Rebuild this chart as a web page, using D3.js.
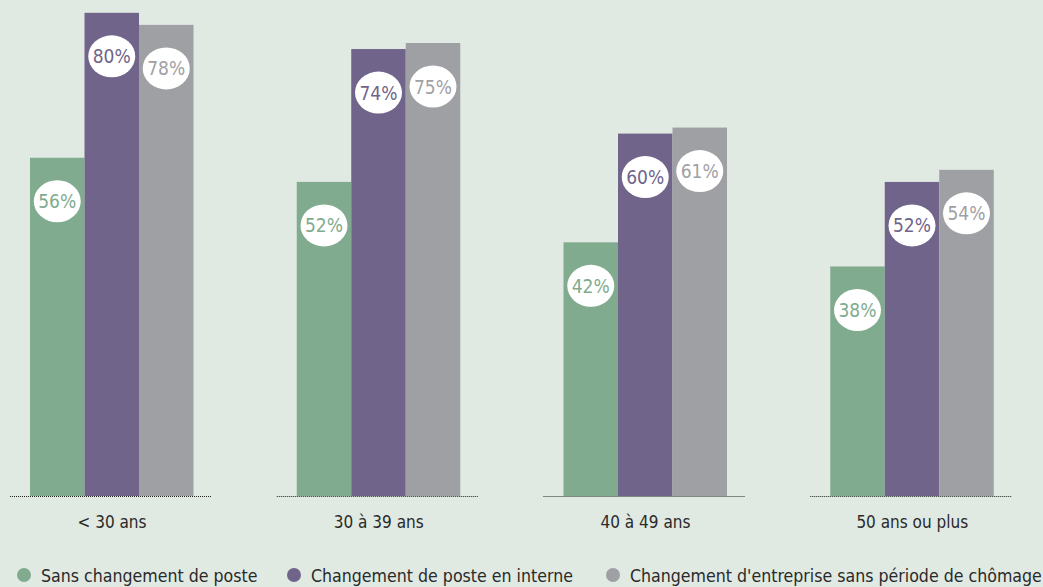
<!DOCTYPE html>
<html>
<head>
<meta charset="utf-8">
<script src="https://cdn.jsdelivr.net/npm/d3@7"></script>
<style>
  body { margin: 0; background: #e0e9e2; }
  text { font-family: "DejaVu Sans Condensed", "DejaVu Sans", sans-serif; }
</style>
</head>
<body>
<div class="container"></div>
<script>
const categories = ['< 30 ans', '30 à 39 ans', '40 à 49 ans', '50 ans ou plus']
const series = ['Sans changement de poste', 'Changement de poste en interne', "Changement d'entreprise sans période de chômage"]
const sansChangement = [56, 52, 42, 38]
const interne = [80, 74, 60, 52]
const entreprise = [78, 75, 61, 54]
const colors = ['#80ab8e', '#71648b', '#9fa0a4']

const values = [sansChangement, interne, entreprise]

const width = 1043, height = 587
const svg = d3.select('.container').append('svg')
    .attr('width', width).attr('height', height)

svg.append('rect').attr('width', width).attr('height', height).attr('fill', '#e0e9e2')

const baseY = 496

const x0 = d3.scaleBand().domain(categories).range([10, 1077]).paddingInner(0).paddingOuter(0)
const x1 = d3.scaleBand().domain(series).range([20, 183.5])
const y = d3.scaleLinear().domain([0, 100]).range([baseY, baseY - 604])

const groups = svg.selectAll('g.group')
    .data(categories)
    .enter().append('g')
    .attr('class', 'group')
    .attr('transform', d => `translate(${x0(d)},0)`)

// dotted baseline
groups.append('line')
    .attr('x1', 0).attr('x2', 202)
    .attr('y1', baseY + 0.5).attr('y2', baseY + 0.5)
    .attr('stroke', '#222').attr('stroke-width', 1)
    .attr('stroke-dasharray', '1,1')

groups.each(function(cat, ci) {
  const g = d3.select(this)
  series.forEach((s, si) => {
    const v = values[si][ci]
    g.append('rect')
        .attr('x', x1(s))
        .attr('y', y(v))
        .attr('width', x1.bandwidth())
        .attr('height', baseY - y(v))
        .attr('fill', colors[si])
    const cx = x1(s) + x1.bandwidth() / 2
    const cy = y(v) + 43.5
    g.append('ellipse')
        .attr('cx', cx).attr('cy', cy)
        .attr('rx', 23.5).attr('ry', 21)
        .attr('fill', '#fff')
    g.append('text')
        .attr('x', cx).attr('y', cy + 7)
        .attr('text-anchor', 'middle')
        .attr('font-size', 19)
        .attr('fill', colors[si])
        .text(v + '%')
  })
  g.append('text')
      .attr('x', 102).attr('y', 528)
      .attr('text-anchor', 'middle')
      .attr('font-size', 17)
      .attr('fill', '#2a2a2a')
      .text(cat)
})

// legend
const legendX = [24, 294, 613]
const legend = svg.selectAll('g.legend')
    .data(series)
    .enter().append('g')
    .attr('class', 'legend')
    .attr('transform', (d, i) => `translate(${legendX[i]},575)`)

legend.append('circle').attr('r', 7).attr('fill', (d, i) => colors[i])
legend.append('text')
    .attr('x', 17).attr('y', 7)
    .attr('font-size', 17.6)
    .attr('fill', '#2a2a2a')
    .text(d => d)
</script>
</body>
</html>
